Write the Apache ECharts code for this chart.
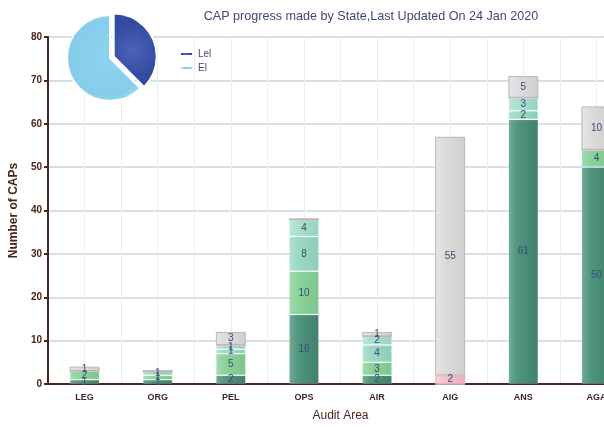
<!DOCTYPE html>
<html>
<head>
<meta charset="utf-8">
<script src="https://cdn.jsdelivr.net/npm/echarts@6/dist/echarts.min.js"></script>
<style>
  html, body { margin: 0; padding: 0; background: #fff; overflow: hidden; }
  /* wider than the window on purpose: the last bar is cut off at the edge */
  #chart { width: 640px; height: 427px; }
</style>
</head>
<body>
<div id="chart"></div>
<script>
// audit areas along the x axis
const areas = ['LEG', 'ORG', 'PEL', 'OPS', 'AIR', 'AIG', 'ANS', 'AGA']

// stacked stages, bottom to top (0 = nothing in that stage)
const stage1 = [1, 1, 2, 16, 2, 0, 61, 50]
const stage2 = [2, 1, 5, 10, 3, 0, 0, 4]
const stage3 = [0, 1, 1, 8, 4, 0, 2, 0]
const stage4 = [0, 0, 1, 4, 2, 0, 3, 0]
const stage5 = [0, 0, 0, 0, 0, 2, 0, 0]
const stage6 = [1, 0, 3, 0, 1, 55, 5, 10]

// pie in the corner
const pieNames = ['Lel', 'El']
const pieValues = [37.5, 62.5]

const yTicks = [0, 10, 20, 30, 40, 50, 60, 70, 80]

const brown = '#4a2418'
const navy = '#3b4a78'

// fake cylinder shading
function shade(light, mid, dark) {
  return new echarts.graphic.LinearGradient(0, 0, 1, 0, [
    { offset: 0, color: light },
    { offset: 0.3, color: mid },
    { offset: 1, color: dark }
  ])
}

function stack(name, data, fill, border) {
  return {
    name: name,
    type: 'bar',
    stack: 'caps',
    barWidth: '41%',
    data: data,
    itemStyle: { color: fill, borderColor: border, borderWidth: 1 },
    label: {
      show: true,
      position: 'inside',
      color: navy,
      fontSize: 10,
      fontFamily: 'Arial',
      formatter: p => (p.value > 0 ? p.value : '')
    }
  }
}

let chart = echarts.init(document.getElementById('chart'))
chart.setOption({
  animation: false,
  title: {
    text: 'CAP progress made by State,Last Updated On 24 Jan 2020',
    left: 366,
    top: 5,
    textAlign: 'center',
    textStyle: { color: navy, fontSize: 12.6, fontWeight: 'normal', fontFamily: 'Arial' }
  },
  legend: {
    data: pieNames,
    orient: 'vertical',
    left: 174,
    top: 44,
    itemWidth: 13,
    itemHeight: 4,
    itemGap: 4,
    icon: 'rect',
    textStyle: { color: navy, fontSize: 10, fontFamily: 'Arial' }
  },
  grid: { left: 47, top: 37, right: 7, bottom: 39, containLabel: false },
  xAxis: [
    {
      type: 'category',
      data: areas,
      name: 'Audit Area',
      nameLocation: 'middle',
      nameGap: 26,
      nameTextStyle: { color: brown, fontSize: 12, fontFamily: 'Arial' },
      axisLine: { lineStyle: { color: brown, width: 2 } },
      axisTick: { lineStyle: { color: brown, width: 2 }, length: 4 },
      axisLabel: { color: '#3a2a2a', fontSize: 9, fontWeight: 'bold', fontFamily: 'Arial', margin: 9 },
      splitLine: { show: false }
    },
    {
      // half-band vertical grid lines
      type: 'value',
      min: 0,
      max: 16,
      interval: 1,
      position: 'top',
      axisLine: { show: false },
      axisTick: { show: false },
      axisLabel: { show: false },
      splitLine: { show: true, lineStyle: { color: '#ececec', width: 1 } }
    }
  ],
  yAxis: {
    type: 'value',
    min: yTicks[0],
    max: yTicks[yTicks.length - 1],
    interval: 10,
    name: 'Number of CAPs',
    nameLocation: 'middle',
    nameGap: 28,
    nameTextStyle: { color: brown, fontSize: 12, fontWeight: 'bold', fontFamily: 'Arial' },
    axisLine: { show: true, lineStyle: { color: brown, width: 2 } },
    axisTick: { show: true, length: 4, lineStyle: { color: brown, width: 2 } },
    axisLabel: { color: brown, fontSize: 10, fontWeight: 'bold', fontFamily: 'Arial', margin: 6 },
    splitLine: { lineStyle: { color: '#d6e0ea', width: 2 } }
  },
  series: [
    stack('Stage 1', stage1, shade('#72ab93', '#519680', '#3f8069'), 'rgba(255,255,255,0.15)'),
    stack('Stage 2', stage2, shade('#a2dcae', '#8cd39b', '#7cc58c'), 'rgba(255,255,255,0.2)'),
    stack('Stage 3', stage3, shade('#b1e2cf', '#9dd9c3', '#8ccdb5'), 'rgba(255,255,255,0.25)'),
    stack('Stage 4', stage4, shade('#bce8d8', '#a8e0cc', '#97d3bf'), 'rgba(255,255,255,0.25)'),
    stack('Stage 5', stage5, shade('#fcd3dc', '#f7c1cd', '#eeb0bd'), '#e5a9b6'),
    stack('Stage 6', stage6, shade('#e6e6e6', '#dcdcdc', '#cfcfcf'), '#b8b8b8'),
    {
      name: 'progress',
      type: 'pie',
      center: [110, 58],
      radius: 43,
      startAngle: 90,
      selectedMode: 'single',
      selectedOffset: 4,
      label: { show: false },
      labelLine: { show: false },
      itemStyle: { borderColor: '#fff', borderWidth: 2 },
      data: [
        {
          name: pieNames[0],
          value: pieValues[0],
          selected: true,
          itemStyle: {
            color: new echarts.graphic.RadialGradient(0.45, 0.5, 0.6, [
              { offset: 0, color: '#4c63b8' },
              { offset: 1, color: '#334aa0' }
            ])
          }
        },
        {
          name: pieNames[1],
          value: pieValues[1],
          itemStyle: {
            color: new echarts.graphic.RadialGradient(0.55, 0.5, 0.6, [
              { offset: 0, color: '#8ed2f0' },
              { offset: 0.85, color: '#86cdec' },
              { offset: 1, color: '#a6dcf3' }
            ])
          }
        }
      ]
    }
  ]
})
</script>
</body>
</html>
